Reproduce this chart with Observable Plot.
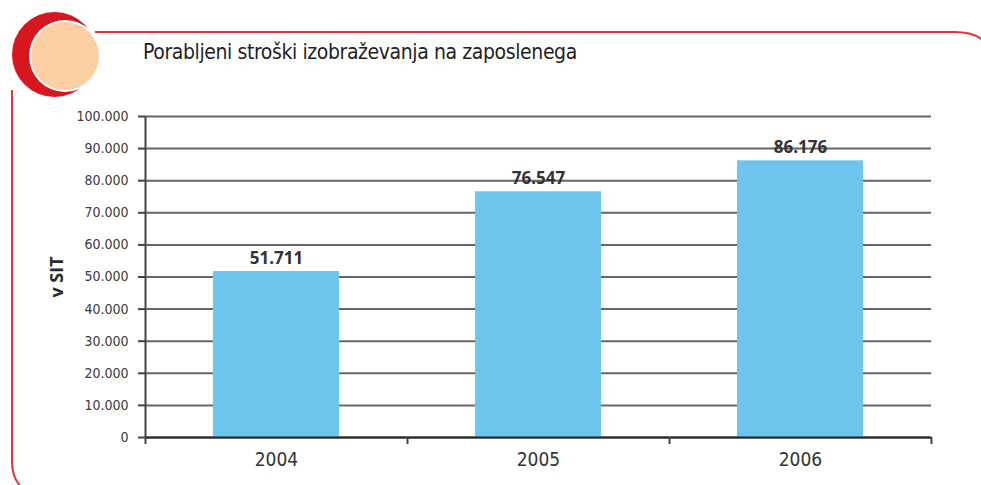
<!DOCTYPE html>
<html>
<head>
<meta charset="utf-8">
<script src="https://cdn.jsdelivr.net/npm/d3@7"></script>
<script src="https://cdn.jsdelivr.net/npm/@observablehq/plot@0.6"></script>
<style>
  html, body { margin: 0; padding: 0; background: #fff; }
  #wrap { position: relative; width: 981px; height: 485px; overflow: hidden; }
  #deco { position: absolute; left: 0; top: 0; }
  #chart { position: absolute; left: 0; top: 0; }
  #title { position: absolute; left: 143px; top: 40px; font-family: "DejaVu Sans Condensed", "DejaVu Sans", sans-serif;
           font-stretch: condensed; font-size: 21px; letter-spacing: -0.4px; color: #231f20; white-space: nowrap; }
</style>
</head>
<body>
<div id="wrap">
  <svg id="deco" width="981" height="485">
    <path d="M95,32 H955 Q975,32 985,42" fill="none" stroke="#e0353f" stroke-width="2"/>
    <path d="M12,90 V462 Q12,478 22,488" fill="none" stroke="#e0353f" stroke-width="2"/>
    <circle cx="54.5" cy="54.5" r="42.5" fill="#d8161f"/>
    <circle cx="65" cy="56" r="36" fill="#ffffff"/>
    <circle cx="65" cy="56" r="34" fill="#fdd0a3"/>
  </svg>
  <div id="chart"></div>
  <div id="title">Porabljeni stroški izobraževanja na zaposlenega</div>
</div>
<script>
const years = ["2004", "2005", "2006"];
const values = [51711, 76547, 86176];
const yTicks = [0, 10000, 20000, 30000, 40000, 50000, 60000, 70000, 80000, 90000, 100000];
const yLabel = "v SIT";

const loc = d3.formatLocale({decimal: ",", thousands: ".", grouping: [3], currency: ["", ""]});
const fmt = loc.format(",d");

const data = years.map((y, i) => ({year: y, i, value: values[i]}));
const narrow = "DejaVu Sans Condensed, DejaVu Sans, sans-serif";

const chart = Plot.plot({
  width: 981,
  height: 485,
  marginLeft: 145,
  marginRight: 50,
  marginTop: 116,
  marginBottom: 48,
  style: {fontFamily: narrow, background: "transparent"},
  x: {type: "linear", domain: [0, years.length], axis: null},
  y: {domain: [0, 100000], axis: null},
  marks: [
    Plot.ruleY(yTicks, {stroke: "#666", strokeWidth: 2}),
    Plot.axisY({ticks: yTicks, tickSize: 7, tickPadding: 10, tickFormat: fmt, fontSize: 14,
                stroke: "#444", strokeWidth: 2, color: "#3c3c3c",
                label: yLabel, labelAnchor: "center", labelArrow: "none", labelOffset: 95}),
    Plot.rectY(data, {x1: "i", x2: d => d.i + 1, y: "value", insetLeft: 68, insetRight: 68, fill: "#6dc5ee"}),
    Plot.ruleY([0], {stroke: "#222", strokeWidth: 2}),
    Plot.ruleX([0], {y1: 0, y2: 100000, stroke: "#444", strokeWidth: 2}),
    Plot.axisX({ticks: d3.range(years.length + 1), tickSize: 7, tickFormat: () => "", stroke: "#444", strokeWidth: 2, label: null}),
    Plot.axisX({ticks: years.map((y, i) => i + 0.5), tickSize: 0, tickPadding: 15, tickFormat: d => years[Math.floor(d)],
                fontSize: 19, color: "#333", label: null}),
    Plot.text(data, {x: d => d.i + 0.5, y: "value", text: d => fmt(d.value), lineAnchor: "bottom", dy: -8,
                     fontFamily: "Open Sans, DejaVu Sans, sans-serif", fontWeight: "bold", fontSize: 17, fill: "#333"})
  ]
});
document.getElementById("chart").appendChild(chart);
// style y-axis label (bold, larger, darker)
chart.querySelectorAll("text").forEach(t => {
  if (t.textContent.trim() === yLabel) {
    t.style.fontFamily = "Open Sans, DejaVu Sans, sans-serif";
    t.style.fontWeight = "bold";
    t.style.fontSize = "18px";
    t.setAttribute("fill", "#2a2a2a");
    t.style.fill = "#2a2a2a";
  }
});
</script>
</body>
</html>
